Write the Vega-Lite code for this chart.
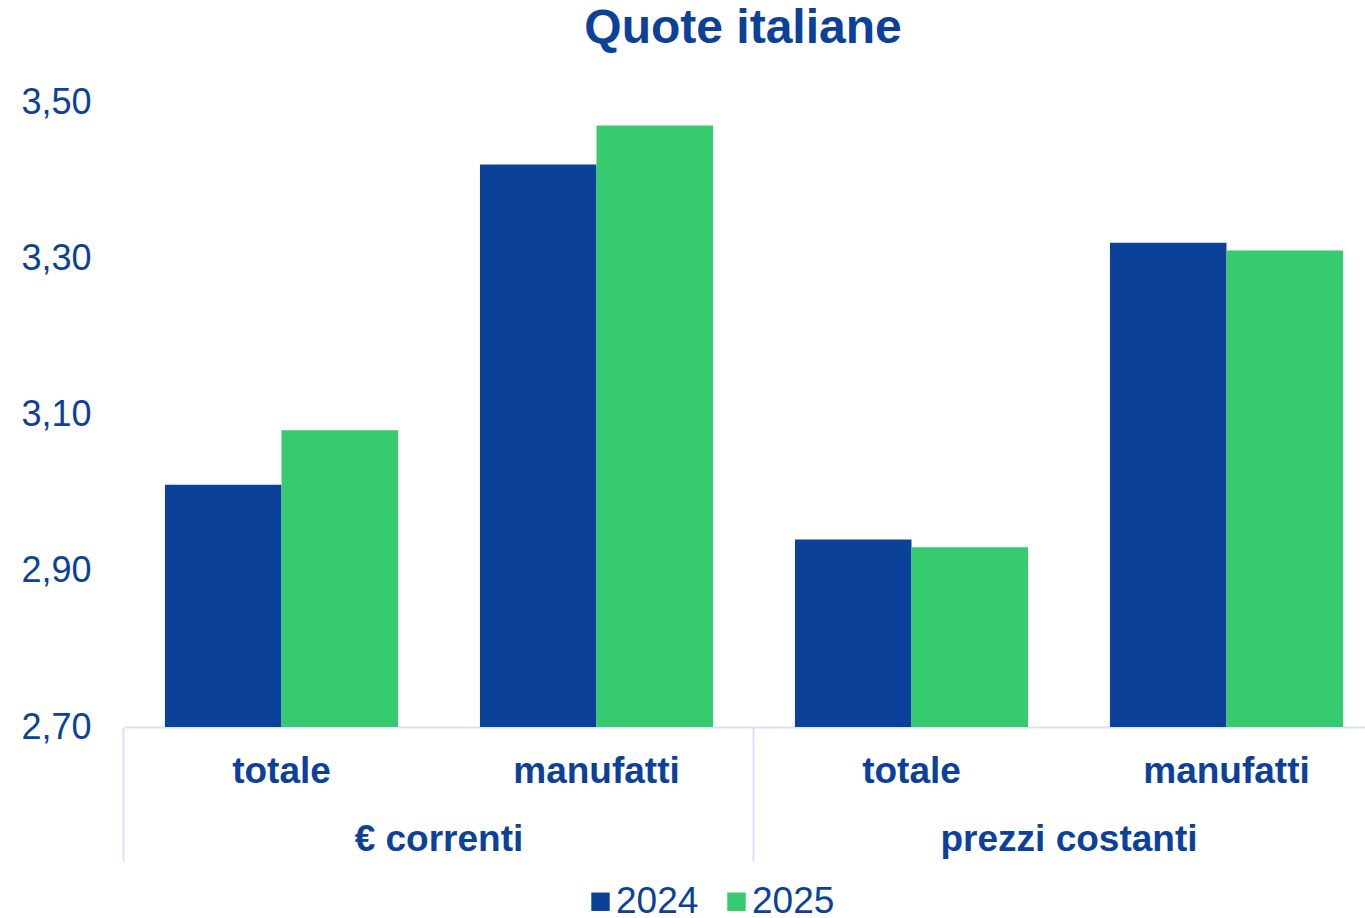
{
  "$schema": "https://vega.github.io/schema/vega-lite/v6.json",
  "width": 1260,
  "height": 625,
  "padding": {"left": 20, "top": 5, "right": 0, "bottom": 0},
  "background": "white",
  "config": {
    "font": "Liberation Sans",
    "view": {"stroke": null}
  },
  "title": {
    "text": "Quote italiane",
    "fontSize": 48,
    "fontWeight": "bold",
    "color": "#0C419A",
    "anchor": "middle",
    "frame": "group",
    "dx": -11,
    "offset": 31
  },
  "data": {
    "values": [
      {"key": "€ correnti|totale", "year": "2024", "value": 3.01},
      {"key": "€ correnti|totale", "year": "2025", "value": 3.08},
      {"key": "€ correnti|manufatti", "year": "2024", "value": 3.42},
      {"key": "€ correnti|manufatti", "year": "2025", "value": 3.47},
      {"key": "prezzi costanti|totale", "year": "2024", "value": 2.94},
      {"key": "prezzi costanti|totale", "year": "2025", "value": 2.93},
      {"key": "prezzi costanti|manufatti", "year": "2024", "value": 3.32},
      {"key": "prezzi costanti|manufatti", "year": "2025", "value": 3.31}
    ]
  },
  "resolve": {"axis": {"x": "independent"}},
  "layer": [
    {
      "mark": {"type": "bar", "clip": true},
      "encoding": {
        "x": {
          "field": "key",
          "type": "nominal",
          "scale": {
            "domain": ["€ correnti|totale", "€ correnti|manufatti", "prezzi costanti|totale", "prezzi costanti|manufatti"],
            "paddingInner": 0.26,
            "paddingOuter": 0.13
          },
          "axis": {
            "orient": "bottom",
            "title": null,
            "ticks": false,
            "domain": true,
            "domainColor": "#D6E3FA",
            "domainWidth": 2,
            "labelAngle": 0,
            "labelExpr": "isString(datum.value) ? split(datum.value, '|')[1] : ''",
            "labelFontSize": 37,
            "labelFontWeight": "bold",
            "labelColor": "#0C419A",
            "labelPadding": 26,
            "labelOverlap": false,
            "labelLimit": 0
          }
        },
        "xOffset": {"field": "year", "type": "nominal", "scale": {"domain": ["2024", "2025"]}},
        "y": {
          "field": "value",
          "type": "quantitative",
          "scale": {"domain": [2.7, 3.5], "zero": false, "nice": false},
          "axis": {
            "title": null,
            "values": [2.7, 2.9, 3.1, 3.3, 3.5],
            "labelExpr": "replace(format(datum.value, '.2f'), '.', ',')",
            "labelFontSize": 36,
            "labelColor": "#0C419A",
            "labelPadding": 33,
            "ticks": false,
            "domain": false,
            "grid": false
          }
        },
        "color": {
          "field": "year",
          "type": "nominal",
          "scale": {"domain": ["2024", "2025"], "range": ["#0C419A", "#37CB6F"]},
          "legend": {
            "title": null,
            "orient": "none",
            "direction": "horizontal",
            "legendX": 458,
            "legendY": 781,
            "symbolType": "square",
            "symbolSize": 340,
            "symbolStrokeWidth": 0,
            "symbolOpacity": 1,
            "labelFontSize": 37,
            "labelColor": "#0C419A",
            "labelOffset": -3,
            "columnPadding": 19,
            "padding": 0
          }
        }
      }
    },
    {
      "mark": {"type": "point", "opacity": 0},
      "encoding": {
        "x": {
          "field": "key",
          "type": "nominal",
          "axis": {
            "orient": "bottom",
            "title": null,
            "domain": false,
            "ticks": true,
            "bandPosition": -0.176,
            "tickSize": 134,
            "tickWidth": 2,
            "tickColor": "#D6E3FA",
            "tickOpacity": {"condition": {"test": "isString(datum.value) && indexof(datum.value, 'totale') >= 0", "value": 1}, "value": 0},
            "labelAngle": 0,
            "labelExpr": "isString(datum.value) && indexof(datum.value, 'totale') >= 0 ? split(datum.value, '|')[0] : ''",
            "labelOffset": 157.5,
            "labelFontSize": 37,
            "labelFontWeight": "bold",
            "labelColor": "#0C419A",
            "labelPadding": -40,
            "labelOverlap": false,
            "labelLimit": 0
          }
        }
      }
    }
  ]
}
